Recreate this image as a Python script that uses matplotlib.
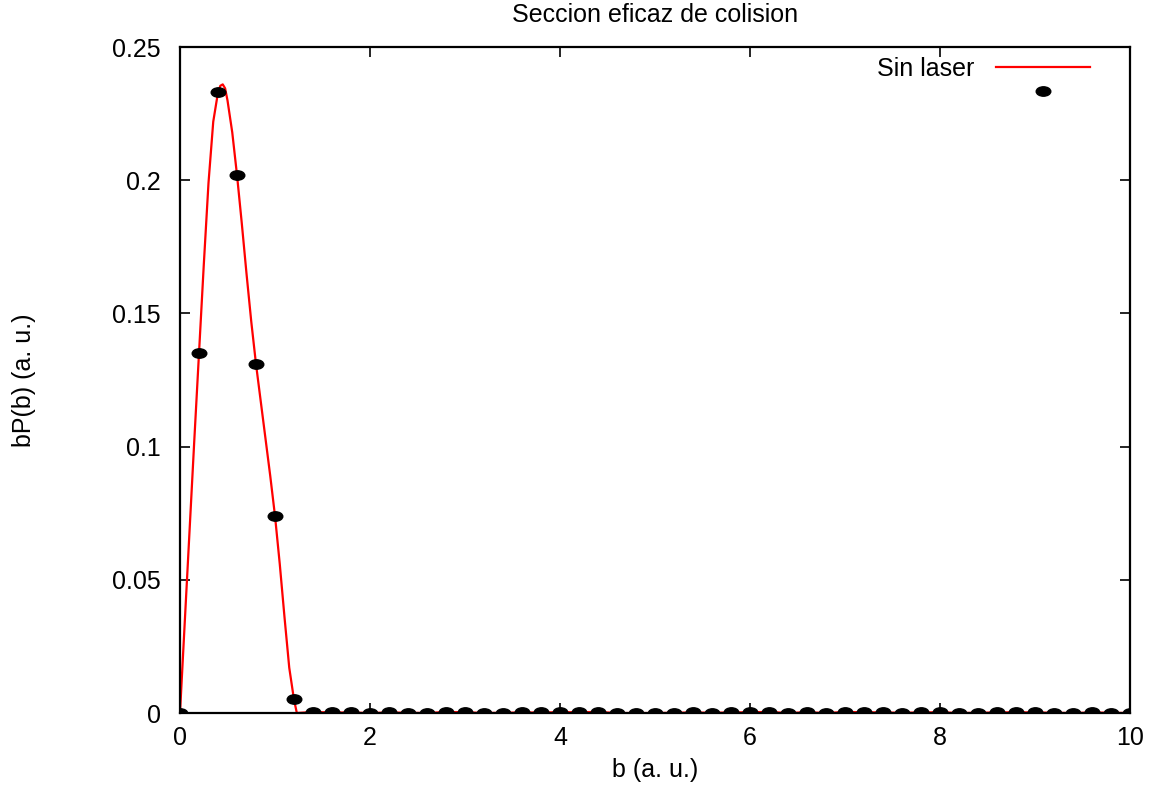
import numpy as np
import matplotlib
matplotlib.use("Agg")
import matplotlib.pyplot as plt
from matplotlib.path import Path

plt.rcParams['font.family'] = ['Liberation Sans', 'DejaVu Sans']

# curve (red line)
curve_b = [0.0, 0.05, 0.1, 0.15, 0.2, 0.25, 0.3, 0.35, 0.4, 0.425, 0.45, 0.475,
           0.5, 0.55, 0.6, 0.65, 0.7, 0.75, 0.8, 0.85, 0.9, 0.95, 1.0,
           1.05, 1.1, 1.15, 1.2, 1.23]
curve_val = [0.0, 0.034, 0.068, 0.102, 0.135, 0.168, 0.199, 0.222, 0.233, 0.2355, 0.236, 0.2345,
             0.230, 0.218, 0.202, 0.184, 0.165, 0.147, 0.131, 0.117, 0.103, 0.089, 0.074,
             0.056, 0.036, 0.017, 0.005, 0.0]

# points (black dots), b = 0, 0.2, ..., 10
pts_b = [round(0.2 * i, 1) for i in range(51)]
pts_val = [0.0, 0.135, 0.233, 0.202, 0.131, 0.074, 0.0053,
           0.0004, 0.0002, 0.0002, 0.0, 0.0002, 0.0001, 0.0, 0.0004, 0.0003, 0.0,
           0.0001, 0.0002, 0.0002, 0.0003, 0.0003, 0.0004, 0.0, 0.0, 0.0, 0.0001,
           0.0002, 0.0001, 0.0002, 0.0003, 0.0004, 0.0, 0.0003, 0.0, 0.0004, 0.0003,
           0.0002, 0.0001, 0.0002, 0.0003, 0.0, 0.0001, 0.0002, 0.0003, 0.0002, 0.0001,
           0.0, 0.0002, 0.0001, 0.0]

# red line continues along the tail data
line_b = curve_b + pts_b[7:]
line_val = curve_val + pts_val[7:]

xticks = [0, 2, 4, 6, 8, 10]
yticks = [0, 0.05, 0.1, 0.15, 0.2, 0.25]
ytick_labels = ['0', '0.05', '0.1', '0.15', '0.2', '0.25']

FS = 18

circ = Path.unit_circle()
ellipse = Path(circ.vertices * np.array([1.55, 1.0]), circ.codes)

fig = plt.figure(figsize=(11.65, 7.85), dpi=100)
ax = fig.add_axes([0.1545, 0.0917, 0.8155, 0.8483])

ln, = ax.plot(line_b, line_val, color='red', lw=1.6, zorder=2)
dots, = ax.plot(pts_b, pts_val, ls='none', marker=ellipse, markersize=10.5,
                color='black', zorder=3)

ax.set_xlim(0, 10)
ax.set_ylim(0, 0.25)
ax.set_xticks(xticks)
ax.set_xticklabels([str(x) for x in xticks])
ax.set_yticks(yticks)
ax.set_yticklabels(ytick_labels)
ax.tick_params(direction='in', length=7, width=1.2, top=True, right=True,
               labelsize=FS)
ax.tick_params(axis='x', pad=9)
ax.tick_params(axis='y', pad=14)
for s in ax.spines.values():
    s.set_linewidth(1.6)

ax.set_title('Seccion eficaz de colision', fontsize=FS, pad=18)
ax.set_xlabel('b (a. u.)', fontsize=FS, labelpad=6)
ax.set_ylabel('bP(b) (a. u.)', fontsize=FS)
ax.yaxis.set_label_coords(-0.152, 0.5)

ax.legend([ln, dots], ['Sin laser', ''], loc='upper right', frameon=False,
          markerfirst=False, fontsize=FS, handlelength=3.76, handletextpad=0.85,
          labelspacing=0.0, borderaxespad=0.0, bbox_to_anchor=(0.968, 1.0))

fig.savefig('out.png', dpi=100)
